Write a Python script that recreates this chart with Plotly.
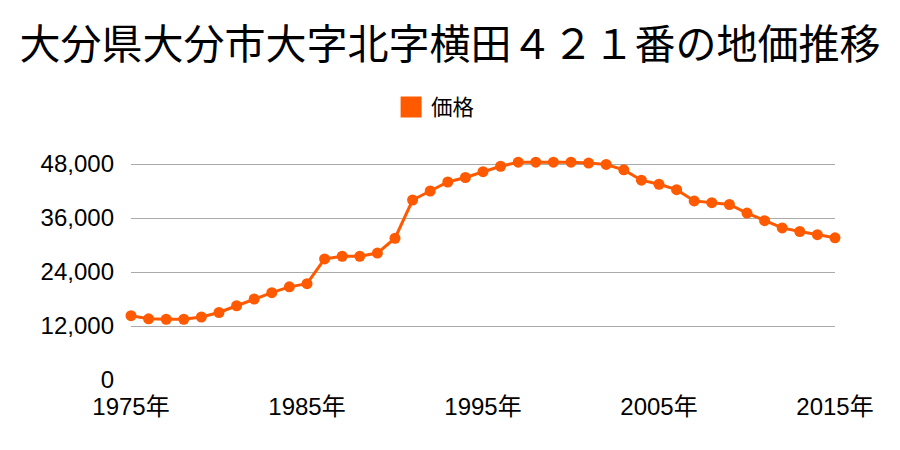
import plotly.graph_objects as go

years = list(range(1975, 2016))
prices = [14300, 13600, 13500, 13500, 14000, 15000, 16500, 18000, 19400, 20700,
          21400, 26900, 27500, 27500, 28200, 31500, 40000, 42000, 44000, 45000,
          46300, 47500, 48400, 48400, 48400, 48400, 48200, 47900, 46700, 44400,
          43500, 42300, 39800, 39400, 39000, 37100, 35400, 33800, 33000, 32300,
          31600]
x_ticks = [1975, 1985, 1995, 2005, 2015]
x_tick_labels = ["1975年", "1985年", "1995年", "2005年", "2015年"]
y_ticks = [0, 12000, 24000, 36000, 48000]
y_tick_labels = ["0", "12,000", "24,000", "36,000", "48,000"]

ORANGE = "#ff5a00"
FONT = "Noto Sans CJK JP"
TICKFONT = "Liberation Sans, Noto Sans CJK JP"

fig = go.Figure()
fig.add_trace(go.Scatter(
    x=years, y=prices, mode="lines+markers",
    line=dict(color=ORANGE, width=3),
    marker=dict(color=ORANGE, size=11),
    showlegend=False, cliponaxis=False, name="価格",
))
fig.add_trace(go.Scatter(
    x=[None], y=[None], mode="markers", name="価格",
    marker=dict(color=ORANGE, size=16, symbol="square",
                line=dict(color=ORANGE, width=8)),
    showlegend=True,
))

fig.update_layout(
    width=900, height=450,
    margin=dict(l=131, r=65, t=155, b=70),
    paper_bgcolor="white", plot_bgcolor="white",
    font=dict(family=FONT, color="#000000", size=21),
    title=dict(text="大分県大分市大字北字横田４２１番の地価推移",
               x=0.5, xanchor="center", y=0.9, yanchor="middle",
               xref="container", yref="container",
               font=dict(size=41, family=FONT, color="#000000")),
    legend=dict(orientation="h", xref="container", yref="container",
                x=0.484, xanchor="center", y=0.762, yanchor="middle",
                font=dict(size=21.5, family=FONT), itemsizing="trace",
                bgcolor="rgba(0,0,0,0)"),
    xaxis=dict(range=[1975, 2015], tickvals=x_ticks, ticktext=x_tick_labels,
               showgrid=False, zeroline=False, showline=False,
               ticks="", ticklabelstandoff=10,
               tickfont=dict(size=24, family=TICKFONT, color="#000000")),
    yaxis=dict(range=[0, 50000], tickvals=y_ticks, ticktext=y_tick_labels,
               showgrid=True, gridcolor="#aaaaaa", gridwidth=1,
               zeroline=False, showline=False, ticks="",
               ticklabelstandoff=16,
               tickfont=dict(size=24, family=TICKFONT, color="#000000")),
)

fig.write_html("out.html")
